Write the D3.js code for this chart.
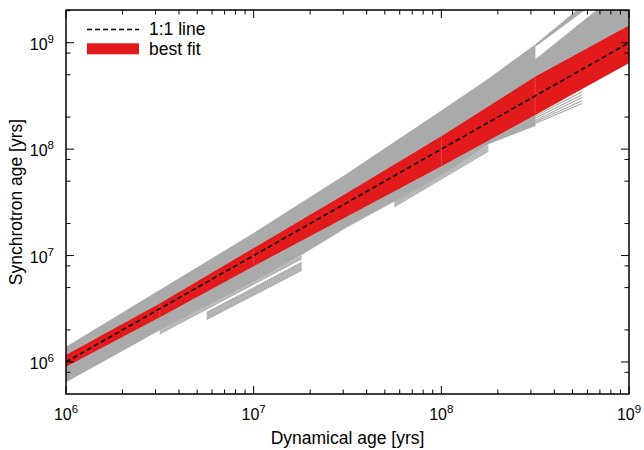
<!DOCTYPE html>
<html><head><meta charset="utf-8">
<script src="https://cdn.jsdelivr.net/npm/d3@7"></script>
<style>
body{margin:0;background:#fff}
svg{display:block}
text{font-family:"Liberation Sans", Arial, Helvetica, sans-serif;fill:#000}
</style>
</head><body>
<svg id="chart" width="644" height="450"></svg>
<script>
// ---------- data ----------
const xDomain = [1e6, 1e9];
const yDomain = [5e5, 2.03e9];
const xMajorTicks = [1e6, 1e7, 1e8, 1e9];
const yMajorTicks = [1e6, 1e7, 1e8, 1e9];
const tickExponents = ["6", "7", "8", "9"];
const xMinorMultipliers = [2, 3, 4, 5, 6, 7, 8, 9];
const yMinorMultipliers = [2, 5, 8];
const minorDecades = [1e5, 1e6, 1e7, 1e8, 1e9];

// 1:1 line
const oneToOneX = [1e6, 1e9];
const oneToOneY = [1e6, 1e9];

// best-fit band (half-decade segments)
const fitX    = [1e6,    3.16e6, 1e7,     3.16e7, 1e8,    3.16e8, 1e9];
const fitLow  = [9.0e5,  2.63e6, 7.94e6,  2.34e7, 6.92e7, 2.09e8, 6.46e8];
const fitHigh = [1.16e6, 3.55e6, 1.175e7, 3.89e7, 1.32e8, 4.79e8, 1.45e9];
const fitSeams = [3.16e6, 1e7, 1e8, 3.16e8];

// gray bundle of individual fits: dense core outline (upper edge, then lower edge back)
const grayCoreX = [1e6, 1e7, 3.16e7, 1e8, 1.78e8, 3.16e8, 3.16e8, 6.76e8, 1e9,
                   1e9, 5.62e8, 3.16e8, 3.16e8, 1.78e8, 1e8, 5.62e7, 3.16e7, 1.8e7, 1e7, 3.16e6, 1e6];
const grayCoreY = [1.38e6, 1.62e7, 5.89e7, 2.29e8, 4.57e8, 9.55e8, 6.92e8, 2.03e9, 2.03e9,
                   6.46e8, 3.72e8, 2.09e8, 1.66e8, 1.12e8, 5.75e7, 3.24e7, 1.86e7, 1.02e7, 5.75e6, 2.0e6, 6.5e5];
// steep fan above the gap beyond 3.2e8
const grayFanX = [3.16e8, 5.3e8, 5.8e8, 3.2e8];
const grayFanY = [9.55e8, 2.03e9, 2.03e9, 9.33e8];

// individual fit lines at the lower fringe: [x0, y0, x1, y1]
const fringeLines = [
  [3.16e6, 1.95e6, 1.8e7, 9.89e6],
  [3.16e6, 1.89e6, 1.8e7, 9.59e6],
  [3.16e6, 1.84e6, 1.8e7, 9.31e6],
  [5.62e6, 2.92e6, 1.8e7, 8.6e6],
  [5.62e6, 2.86e6, 1.8e7, 8.4e6],
  [5.62e6, 2.80e6, 1.8e7, 8.2e6],
  [5.62e6, 2.74e6, 1.8e7, 8.0e6],
  [5.62e6, 2.68e6, 1.8e7, 7.8e6],
  [5.62e6, 2.62e6, 1.8e7, 7.62e6],
  [5.62e6, 2.56e6, 1.8e7, 7.44e6],
  [5.62e6, 2.50e6, 1.8e7, 7.27e6],
  [5.62e7, 3.2e7, 1.78e8, 1.08e8],
  [5.62e7, 3.12e7, 1.78e8, 1.05e8],
  [5.62e7, 3.04e7, 1.78e8, 1.02e8],
  [5.62e7, 2.96e7, 1.78e8, 9.9e7],
  [5.62e7, 2.88e7, 1.78e8, 9.6e7],
  [3.16e8, 2.14e8, 5.62e8, 3.72e8],
  [3.16e8, 2.04e8, 5.62e8, 3.47e8],
  [3.16e8, 1.95e8, 5.62e8, 3.24e8],
  [3.16e8, 1.86e8, 5.62e8, 3.05e8],
  [3.16e8, 1.80e8, 5.62e8, 2.85e8],
  [3.16e8, 1.74e8, 5.62e8, 2.69e8]
];

const legendLabels = ["1:1 line", "best fit"];
const xTitle = "Dynamical age [yrs]";
const yTitle = "Synchrotron age [yrs]";

// ---------- drawing ----------
const L = 66, R = 629, T = 10, B = 394;
const grayCol = "#aaaaaa", redCol = "#e31a1c";

const svg = d3.select("#chart");
const x = d3.scaleLog().domain(xDomain).range([L, R]);
const y = d3.scaleLog().domain(yDomain).range([B, T]);

svg.append("defs").append("clipPath").attr("id", "clip")
  .append("rect").attr("x", L).attr("y", T).attr("width", R - L).attr("height", B - T);

const plot = svg.append("g").attr("clip-path", "url(#clip)");
const poly = d3.line().x(d => x(d[0])).y(d => y(d[1]));

plot.append("path")
  .attr("d", poly(d3.zip(grayCoreX, grayCoreY)) + "Z")
  .attr("fill", grayCol).attr("stroke", grayCol).attr("stroke-width", 0.6);
plot.append("path")
  .attr("d", poly(d3.zip(grayFanX, grayFanY)) + "Z")
  .attr("fill", grayCol).attr("stroke", grayCol).attr("stroke-width", 0.6);

plot.selectAll("line.fringe").data(fringeLines).enter().append("line")
  .attr("class", "fringe")
  .attr("x1", d => x(d[0])).attr("y1", d => y(d[1]))
  .attr("x2", d => x(d[2])).attr("y2", d => y(d[3]))
  .attr("stroke", grayCol).attr("stroke-width", 1.1);

const band = d3.area().x(d => x(d[0])).y0(d => y(d[1])).y1(d => y(d[2]));
plot.append("path")
  .attr("d", band(d3.zip(fitX, fitLow, fitHigh)))
  .attr("fill", redCol);

// faint seams between fit segments
fitSeams.forEach(sx => {
  const i = fitX.indexOf(sx);
  plot.append("line")
    .attr("x1", x(sx)).attr("x2", x(sx))
    .attr("y1", y(fitLow[i]) - 1).attr("y2", y(fitHigh[i]) + 1)
    .attr("stroke", "#ea5a5a").attr("stroke-width", 0.6);
});

plot.append("path")
  .attr("d", poly(d3.zip(oneToOneX, oneToOneY)))
  .attr("stroke", "#000").attr("stroke-width", 1.5)
  .attr("stroke-dasharray", "5,3").attr("fill", "none");

// ---------- axes frame and ticks ----------
const axes = svg.append("g");
const majorLen = 8, minorLen = 4.5;

const xMinor = [];
minorDecades.forEach(dd => xMinorMultipliers.forEach(m => {
  const v = dd * m; if (v > xDomain[0] && v < xDomain[1]) xMinor.push(v);
}));
const yMinor = [];
minorDecades.forEach(dd => yMinorMultipliers.forEach(m => {
  const v = dd * m; if (v > yDomain[0] && v < yDomain[1]) yMinor.push(v);
}));

function xTicks(vals, len) {
  vals.forEach(v => {
    const px = x(v);
    axes.append("line").attr("x1", px).attr("x2", px).attr("y1", B).attr("y2", B - len)
      .attr("stroke", "#000").attr("stroke-width", 1);
    axes.append("line").attr("x1", px).attr("x2", px).attr("y1", T).attr("y2", T + len)
      .attr("stroke", "#000").attr("stroke-width", 1);
  });
}
function yTicks(vals, len) {
  vals.forEach(v => {
    const py = y(v);
    axes.append("line").attr("x1", L).attr("x2", L + len).attr("y1", py).attr("y2", py)
      .attr("stroke", "#000").attr("stroke-width", 1);
    axes.append("line").attr("x1", R).attr("x2", R - len).attr("y1", py).attr("y2", py)
      .attr("stroke", "#000").attr("stroke-width", 1);
  });
}
xTicks(xMajorTicks, majorLen); xTicks(xMinor, minorLen);
yTicks(yMajorTicks, majorLen); yTicks(yMinor, minorLen);

axes.append("rect").attr("x", L).attr("y", T).attr("width", R - L).attr("height", B - T)
  .attr("fill", "none").attr("stroke", "#000").attr("stroke-width", 1.5);

// tick labels
xMajorTicks.forEach((v, i) => {
  const t = axes.append("text").attr("x", x(v)).attr("y", 420)
    .attr("text-anchor", "middle").attr("font-size", 16);
  t.append("tspan").text("10");
  t.append("tspan").attr("dy", -7).attr("font-size", 11.5).text(tickExponents[i]);
});
yMajorTicks.forEach((v, i) => {
  const t = axes.append("text").attr("x", 54).attr("y", y(v) + 7)
    .attr("text-anchor", "end").attr("font-size", 16);
  t.append("tspan").text("10");
  t.append("tspan").attr("dy", -7).attr("font-size", 11.5).text(tickExponents[i]);
});

// axis titles
svg.append("text").attr("x", (L + R) / 2).attr("y", 443.5)
  .attr("text-anchor", "middle").attr("font-size", 17.5).text(xTitle);
svg.append("text").attr("transform", `translate(21.5,${(T + B) / 2}) rotate(-90)`)
  .attr("text-anchor", "middle").attr("font-size", 17.5).text(yTitle);

// legend
const lg = svg.append("g");
lg.append("line").attr("x1", 87).attr("x2", 139).attr("y1", 29.5).attr("y2", 29.5)
  .attr("stroke", "#000").attr("stroke-width", 1.3).attr("stroke-dasharray", "5,3");
lg.append("text").attr("x", 149).attr("y", 35).attr("font-size", 17.5).text(legendLabels[0]);
lg.append("rect").attr("x", 87).attr("y", 43.3).attr("width", 52).attr("height", 11)
  .attr("fill", redCol);
lg.append("text").attr("x", 149).attr("y", 55).attr("font-size", 17.5).text(legendLabels[1]);
</script>
</body></html>
